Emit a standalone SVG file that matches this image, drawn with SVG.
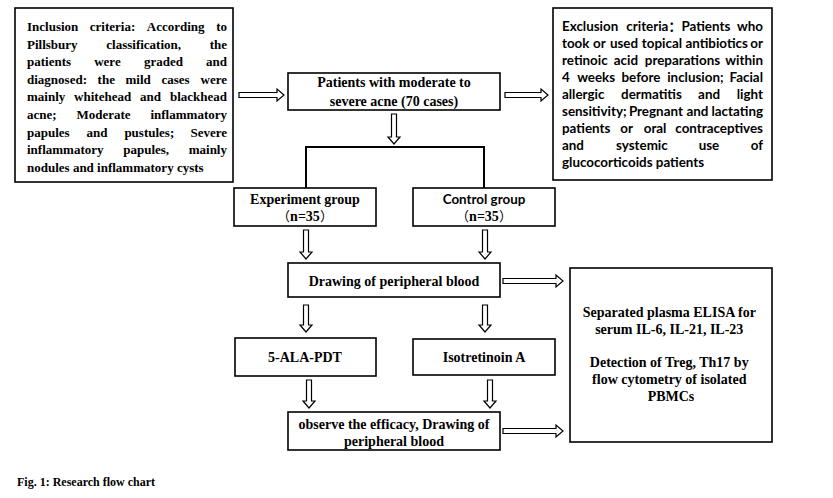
<svg xmlns="http://www.w3.org/2000/svg" width="833" height="498" viewBox="0 0 833 498">
<style>
.box{fill:#fff;stroke:#000;stroke-width:1.6}
.arr{fill:#fff;stroke:#000;stroke-width:1.2;stroke-linejoin:miter}
.ln{fill:none;stroke:#000;stroke-width:2}
.tr{font-family:"Liberation Serif","Times New Roman","Noto Sans CJK SC",serif;font-weight:bold;font-size:14px;fill:#000}
.inc{font-size:13px}
.sn{font-family:Lato,"Liberation Sans","Noto Sans CJK SC",sans-serif;font-weight:bold;font-size:13.4px;fill:#000}
.cjk{font-family:"Noto Sans CJK SC",sans-serif;font-weight:normal;font-size:13px}
.c{text-anchor:middle}
.e{text-anchor:end}
</style>
<rect width="833" height="498" fill="#fff"/>
<g id="inclusion">
<rect class="box" x="15" y="8" width="218" height="174"/>
<g class="tr inc">
<text x="27" y="31">Inclusion</text><text x="89.8" y="31">criteria:</text><text x="146.8" y="31">According</text><text class="e" x="227" y="31">to</text>
<text x="27" y="48.6">Pillsbury</text><text x="106.3" y="48.6">classification,</text><text class="e" x="227" y="48.6">the</text>
<text x="27" y="66.2">patients</text><text x="94.2" y="66.2">were</text><text x="144" y="66.2">graded</text><text class="e" x="227" y="66.2">and</text>
<text x="27" y="83.8">diagnosed:</text><text x="97.6" y="83.8">the</text><text x="125.5" y="83.8">mild</text><text x="161.4" y="83.8">cases</text><text class="e" x="227" y="83.8">were</text>
<text x="27" y="101.4">mainly</text><text x="74.1" y="101.4">whitehead</text><text x="140" y="101.4">and</text><text class="e" x="227" y="101.4">blackhead</text>
<text x="27" y="119">acne;</text><text x="76.5" y="119">Moderate</text><text class="e" x="227" y="119">inflammatory</text>
<text x="27" y="136.6">papules</text><text x="86.5" y="136.6">and</text><text x="124.4" y="136.6">pustules;</text><text class="e" x="227" y="136.6">Severe</text>
<text x="27" y="154.2">inflammatory</text><text x="123.2" y="154.2">papules,</text><text class="e" x="227" y="154.2">mainly</text>
<text x="27" y="171.8">nodules and inflammatory cysts</text>
</g>
</g>
<g id="exclusion">
<rect class="box" x="553" y="8" width="219" height="172"/>
<g class="sn">
<text x="562" y="31">Exclusion</text><text x="626.3" y="31">criteria<tspan class="cjk" style="font-weight:bold">：</tspan>Patients</text><text class="e" x="763" y="31">who</text>
<text x="562" y="48">took</text><text x="593.1" y="48">or</text><text x="609.9" y="48">used</text><text x="641.8" y="48">topical</text><text x="685.5" y="48">antibiotics</text><text class="e" x="763" y="48">or</text>
<text x="562" y="65">retinoic</text><text x="613.8" y="65">acid</text><text x="644.8" y="65">preparations</text><text class="e" x="763" y="65">within</text>
<text x="562" y="82">4</text><text x="577.2" y="82">weeks</text><text x="621.5" y="82">before</text><text x="667.2" y="82">inclusion;</text><text class="e" x="763" y="82">Facial</text>
<text x="562" y="99">allergic</text><text x="621.1" y="99">dermatitis</text><text x="698.1" y="99">and</text><text class="e" x="763" y="99">light</text>
<text x="562" y="116">sensitivity;</text><text x="628.9" y="116">Pregnant</text><text x="686.4" y="116">and</text><text class="e" x="763" y="116">lactating</text>
<text x="562" y="133">patients</text><text x="620.3" y="133">or</text><text x="643.7" y="133">oral</text><text class="e" x="763" y="133">contraceptives</text>
<text x="562" y="150">and</text><text x="616" y="150">systemic</text><text x="698.7" y="150">use</text><text class="e" x="763" y="150">of</text>
<text x="562" y="167">glucocorticoids patients</text>
</g>
</g>
<g id="patients">
<rect class="box" x="288" y="73" width="212" height="37"/>
<text class="tr c"><tspan x="394" y="87">Patients with moderate to</tspan><tspan x="394" y="106">severe acne (70 cases)</tspan></text>
</g>
<g id="experiment">
<rect class="box" x="234" y="188" width="142" height="38"/>
<text class="tr c" x="305" y="204">Experiment group</text>
<text class="tr c" x="305" y="221"><tspan class="cjk">（</tspan>n=35<tspan class="cjk">）</tspan></text>
</g>
<g id="control">
<rect class="box" x="413" y="188" width="142" height="38"/>
<text class="sn c" x="484" y="204">Control group</text>
<text class="tr c" x="484" y="221"><tspan class="cjk">（</tspan>n=35<tspan class="cjk">）</tspan></text>
</g>
<g id="drawing">
<rect class="box" x="288" y="263" width="212" height="34"/>
<text class="tr c" x="394" y="286">Drawing of peripheral blood</text>
</g>
<g id="ala">
<rect class="box" x="235" y="338" width="141" height="38"/>
<text class="tr c" x="305" y="362">5-ALA-PDT</text>
</g>
<g id="isotretinoin">
<rect class="box" x="413" y="339" width="142" height="36"/>
<text class="tr c" x="484" y="362">Isotretinoin A</text>
</g>
<g id="observe">
<rect class="box" x="288" y="412" width="212" height="38"/>
<text class="tr c"><tspan x="394" y="429">observe the efficacy, Drawing of</tspan><tspan x="394" y="446">peripheral blood</tspan></text>
</g>
<g id="results">
<rect class="box" x="570" y="268" width="202" height="174"/>
<text class="tr c">
<tspan x="671" y="317">Separated plasma ELISA for</tspan>
<tspan x="671" y="334">serum IL-6, IL-21, IL-23</tspan>
<tspan x="671" y="367">Detection of Treg, Th17 by</tspan>
<tspan x="671" y="384">flow cytometry of isolated</tspan>
<tspan x="671" y="401">PBMCs</tspan>
</text>
</g>
<g id="connectors">
<path class="arr" d="M239,92.5 H277 V89 L284,95 L277,101 V97.5 H239 Z"/>
<path class="arr" d="M505,92.5 H541 V89 L548,95 L541,101 V97.5 H505 Z"/>
<path class="arr" d="M391.5,114 V137 H388 L394,144 L400,137 H396.5 V114 Z"/>
<path class="ln" d="M306,188 V147 H484 V188"/>
<path class="arr" d="M303.5,230 V252 H300 L306,259 L312,252 H308.5 V230 Z"/>
<path class="arr" d="M482.5,230 V252 H479 L485,259 L491,252 H487.5 V230 Z"/>
<path class="arr" d="M503,278.5 H556 V275 L563,281 L556,287 V283.5 H503 Z"/>
<path class="arr" d="M303.5,305 V325 H300 L306,332 L312,325 H308.5 V305 Z"/>
<path class="arr" d="M482.5,305 V325 H479 L485,332 L491,325 H487.5 V305 Z"/>
<path class="arr" d="M306.5,380 V401 H303 L309,408 L315,401 H311.5 V380 Z"/>
<path class="arr" d="M487.5,380 V401 H484 L490,408 L496,401 H492.5 V380 Z"/>
<path class="arr" d="M503,428.5 H556 V425 L563,431 L556,437 V433.5 H503 Z"/>
</g>
<text class="tr" style="font-size:12px" x="17" y="486">Fig. 1: Research flow chart</text>
</svg>
